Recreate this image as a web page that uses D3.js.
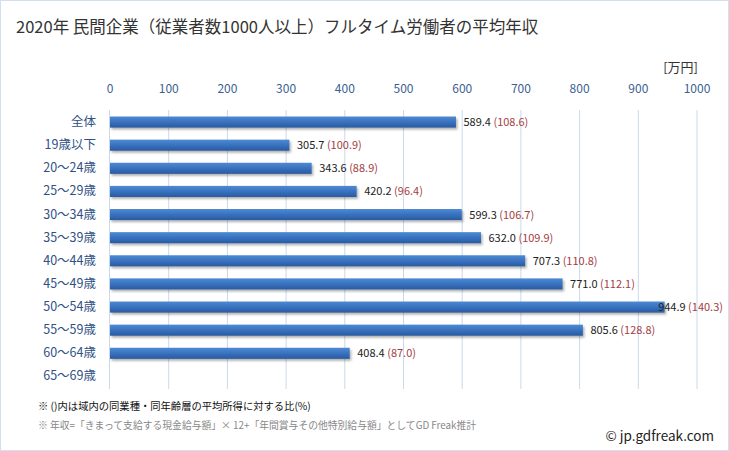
<!DOCTYPE html>
<html><head><meta charset="utf-8">
<script src="https://cdn.jsdelivr.net/npm/d3@7"></script>
<style>
html,body{margin:0;padding:0;background:#fff;}
svg{display:block;font-family:"Noto Sans CJK JP","Noto Sans",sans-serif;}
</style></head>
<body>
<svg id="chart" width="729" height="451"></svg>
<script>
const categories = ["全体","19歳以下","20〜24歳","25〜29歳","30〜34歳","35〜39歳","40〜44歳","45〜49歳","50〜54歳","55〜59歳","60〜64歳","65〜69歳"];
const values = [589.4,305.7,343.6,420.2,599.3,632.0,707.3,771.0,944.9,805.6,408.4,null];
const ratios = ["108.6","100.9","88.9","96.4","106.7","109.9","110.8","112.1","140.3","128.8","87.0",null];
const xTicks = [0,100,200,300,400,500,600,700,800,900,1000];
const title = "2020年 民間企業（従業者数1000人以上）フルタイム労働者の平均年収";
const unit = "[万円]";
const note1 = "※ ()内は域内の同業種・同年齢層の平均所得に対する比(%)";
const note2 = "※ 年収=「きまって支給する現金給与額」× 12+「年間賞与その他特別給与額」としてGD Freak推計";
const credit = "© jp.gdfreak.com";

const svg = d3.select("#chart");
const W = 729, H = 451;
svg.append("rect").attr("x",0.5).attr("y",0.5).attr("width",W-1).attr("height",H-1)
  .attr("fill","#fff").attr("stroke","#d3dfee");

const defs = svg.append("defs");
const grad = defs.append("linearGradient").attr("id","barGrad").attr("x1",0).attr("y1",0).attr("x2",0).attr("y2",1);
grad.append("stop").attr("offset","0%").attr("stop-color","#4f8ad3");
grad.append("stop").attr("offset","45%").attr("stop-color","#3a74c2");
grad.append("stop").attr("offset","100%").attr("stop-color","#2a5a9e");
const f = defs.append("filter").attr("id","shadow").attr("x","-5%").attr("y","-20%").attr("width","110%").attr("height","160%");
f.append("feDropShadow").attr("dx",1.5).attr("dy",2).attr("stdDeviation",1.2).attr("flood-color","#000").attr("flood-opacity",0.3);

const x = d3.scaleLinear().domain([0,1000]).range([109.5,696.5]);
const y = d3.scaleBand().domain(categories).range([110.5,388]).paddingInner(0.52).paddingOuter(0.26);

// title
svg.append("text").attr("x",16).attr("y",33).attr("font-size",16.5).attr("fill","#333").text(title);
svg.append("text").attr("x",698).attr("y",72).attr("text-anchor","end").attr("font-size",13).attr("fill","#333").text(unit);

// gridlines
svg.append("g").selectAll("line").data(xTicks.slice(1)).join("line")
  .attr("x1",d=>x(d)+0.5).attr("x2",d=>x(d)+0.5).attr("y1",110).attr("y2",389)
  .attr("stroke","#c9d9ec").attr("stroke-width",1);

// top axis
const axis = d3.axisTop(x).tickValues(xTicks).tickFormat(d3.format("d")).tickSize(0).tickPadding(0);
const ag = svg.append("g").attr("transform","translate(0,93)").call(axis);
ag.select(".domain").remove();
ag.selectAll("text").attr("font-size",12).attr("fill","#3b5f91").attr("font-family","\"Noto Sans CJK JP\",sans-serif").attr("dy",0);

// left axis line
svg.append("line").attr("x1",109.5).attr("x2",109.5).attr("y1",110).attr("y2",389).attr("stroke","#c9d9ec");

// category labels
const yAxis = d3.axisLeft(y).tickSize(0).tickPadding(0);
const yg = svg.append("g").attr("transform","translate(96,0)").call(yAxis);
yg.select(".domain").remove();
yg.selectAll("text").attr("font-size",12.5).attr("fill","#2f5185").attr("font-family","\"Noto Sans CJK JP\",sans-serif");

// bars
const rows = categories.map((c,i)=>({c,v:values[i],r:ratios[i]})).filter(d=>d.v!=null);
svg.append("g").selectAll("rect").data(rows).join("rect")
  .attr("x",x(0)+0.5).attr("y",d=>y(d.c)).attr("width",d=>x(d.v)-x(0)).attr("height",y.bandwidth())
  .attr("fill","url(#barGrad)").attr("filter","url(#shadow)");

// labels
const lg = svg.append("g");
rows.forEach(d=>{
  const t = lg.append("text").attr("y",y(d.c)+y.bandwidth()/2).attr("dy","0.36em").attr("font-size",11);
  t.append("tspan").attr("fill","#222").text(d.v.toFixed(1)+" ");
  t.append("tspan").attr("fill","#a3403f").text("("+d.r+")");
  const w = t.node().getComputedTextLength();
  const xs = Math.min(x(d.v)+8, 723 - w);
  t.attr("x",xs);
});

// notes
svg.append("text").attr("x",38).attr("y",410).attr("font-size",10.3).attr("fill","#111").text(note1);
svg.append("text").attr("x",38).attr("y",429).attr("font-size",9.8).attr("fill","#888").text(note2);
svg.append("text").attr("x",714).attr("y",441).attr("text-anchor","end").attr("font-size",13.5).attr("fill","#222").text(credit);
</script>
</body></html>
